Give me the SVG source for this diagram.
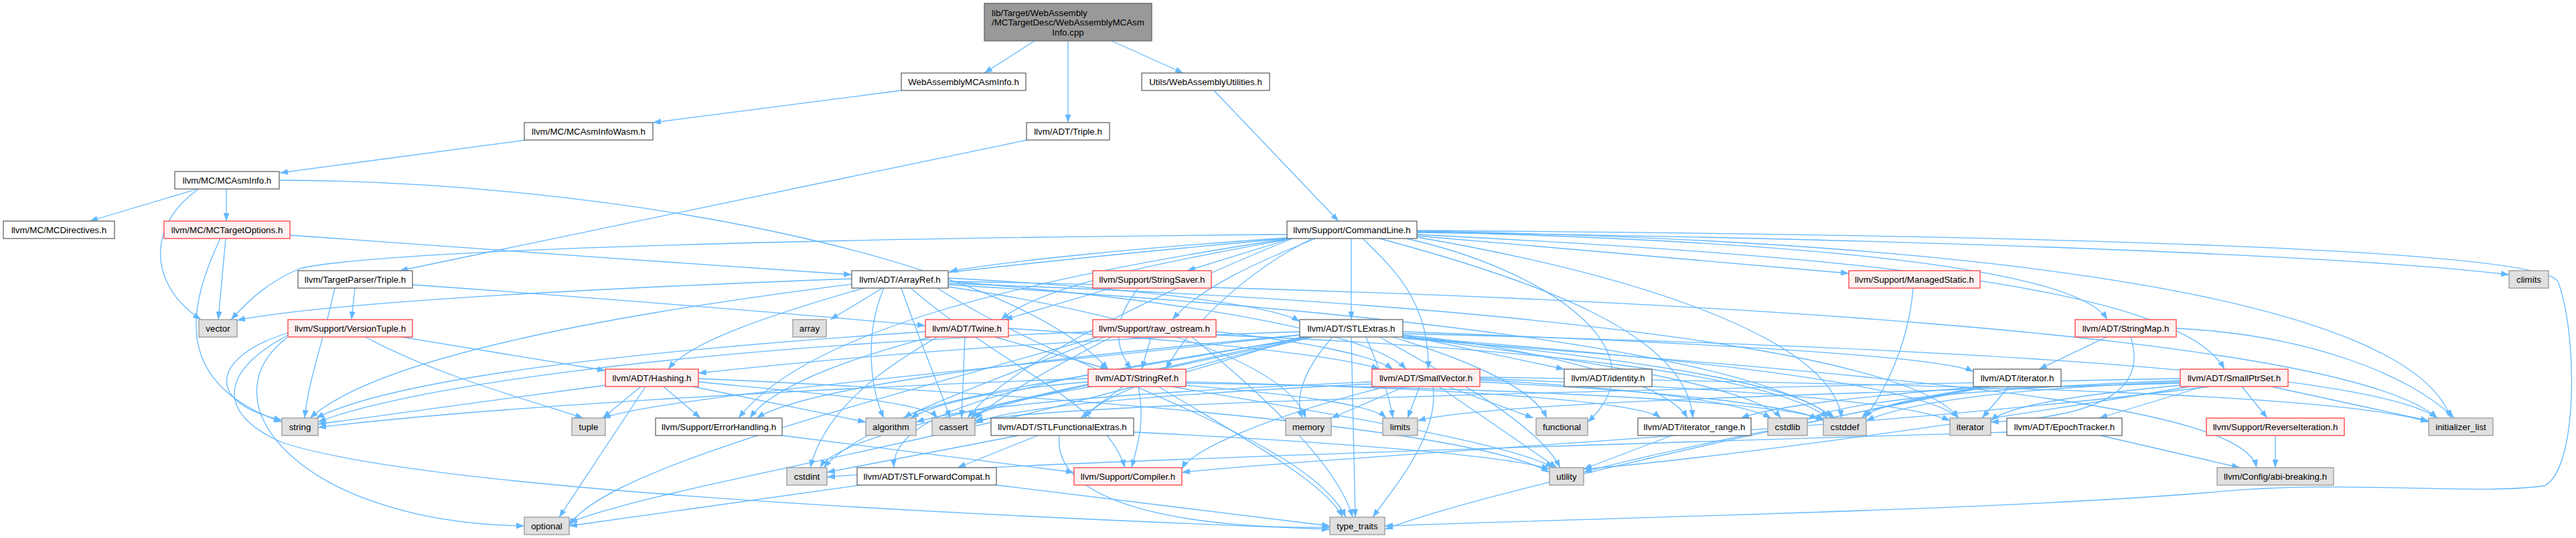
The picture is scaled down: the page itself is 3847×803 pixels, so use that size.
<svg xmlns="http://www.w3.org/2000/svg" width="3847" height="803" viewBox="0 0 3847 803">
<style>
.w{fill:#ffffff;stroke:#666666;stroke-width:1.3}
.r{fill:#fff0f0;stroke:#ff4040;stroke-width:1.3}
.g{fill:#e0e0e0;stroke:#999999;stroke-width:1.3}
.rt{fill:#999999;stroke:#666666;stroke-width:1.3}
text{font-family:'Liberation Sans',Arial,sans-serif;font-size:13.33px;fill:#000;text-anchor:middle}
.e path{fill:none;stroke:#63b8ff;stroke-width:1.3;marker-end:url(#a)}
</style>
<defs>
<marker id="a" viewBox="0 0 12 9" refX="12" refY="4.5" markerWidth="12" markerHeight="9" markerUnits="userSpaceOnUse" orient="auto">
<path d="M0,0 L12,4.5 L0,9 z" fill="#63b8ff"/>
</marker>
</defs>
<rect width="3847" height="803" fill="#ffffff"/>
<g class="e" id="edges">
<path d="M1545,61 L1470,109"/>
<path d="M1595,61 L1595,183"/>
<path d="M1660,61 L1767,109"/>
<path d="M1346,135 L975,183"/>
<path d="M1534,209 L597,404"/>
<path d="M1813,135 L1999,330"/>
<path d="M785,209 L418,258"/>
<path d="M295,282 L134,330"/>
<path d="M338,282 L338,330"/>
<path d="M297,282 C225,330 215,420 300,477"/>
<path d="M417,269 C900,270 1500,380 1655,551"/>
<path d="M433,351 C700,370 1000,392 1272,410"/>
<path d="M329,356 C285,450 250,570 421,630"/>
<path d="M337,356 L326,477"/>
<path d="M530,430 L525,477"/>
<path d="M616,425 C900,445 1200,470 1382,486"/>
<path d="M500,430 C480,520 460,570 455,624"/>
<path d="M600,503 L904,553"/>
<path d="M546,503 C650,560 800,600 871,624"/>
<path d="M430,497 C320,530 300,600 421,627"/>
<path d="M430,503 C300,600 450,780 783,785"/>
<path d="M430,500 C320,560 330,620 420,660 C600,720 1200,760 1986,790"/>
<path d="M1922,355 C1700,370 1500,390 1418,405"/>
<path d="M2018,356 L2018,477"/>
<path d="M2035,356 C2080,400 2135,450 2133,551"/>
<path d="M2116,350 C2700,380 3250,420 3322,551"/>
<path d="M2116,346 C2700,360 3100,400 3147,477"/>
<path d="M1960,356 C1870,400 1780,480 1741,551"/>
<path d="M1930,356 C1800,380 1560,420 1495,477"/>
<path d="M2060,356 C2300,420 2520,500 2528,624"/>
<path d="M1925,356 C1500,420 1200,500 1103,624"/>
<path d="M2116,352 L2761,408"/>
<path d="M1922,358 L1773,404"/>
<path d="M1965,356 C1880,390 1790,430 1751,477"/>
<path d="M1930,356 C1700,450 1500,550 1445,624"/>
<path d="M2116,347 C2800,355 3500,380 3747,410"/>
<path d="M2116,354 C2500,420 2740,520 2750,624"/>
<path d="M2100,356 C2300,400 2490,520 2371,630"/>
<path d="M2116,345 C3000,360 3600,450 3660,624"/>
<path d="M1922,356 C1200,420 600,500 463,624"/>
<path d="M2116,344 C3000,350 3790,370 3820,420 C3850,500 3850,700 3800,725 C3700,740 3500,715 3300,735 C3000,760 2500,770 2068,785"/>
<path d="M1922,350 C1300,355 600,370 450,400 C400,420 370,450 345,477"/>
<path d="M1290,430 C1150,470 1030,510 998,551"/>
<path d="M1416,420 C1800,450 2050,500 2100,551"/>
<path d="M1416,415 C1700,430 1900,455 1941,480"/>
<path d="M1360,430 C1500,550 1650,600 1680,698"/>
<path d="M1320,430 C1290,500 1300,580 1320,624"/>
<path d="M1318,430 L1240,477"/>
<path d="M1346,430 C1370,500 1400,570 1419,624"/>
<path d="M1416,425 C2000,460 2600,520 2740,624"/>
<path d="M1416,420 C2500,440 3500,500 3640,624"/>
<path d="M1416,423 C2200,450 2850,520 2925,624"/>
<path d="M1416,428 C1700,470 1920,540 1950,624"/>
<path d="M1400,430 C1600,560 1950,650 2010,772"/>
<path d="M1272,416 C900,430 500,450 354,478"/>
<path d="M1700,430 C1660,480 1665,520 1690,551"/>
<path d="M1660,430 L1500,477"/>
<path d="M2857,430 C2850,520 2810,590 2785,624"/>
<path d="M1506,490 C1800,510 2000,530 2060,551"/>
<path d="M1486,503 L1655,551"/>
<path d="M1390,503 C1250,540 1150,580 1120,624"/>
<path d="M1441,503 L1436,624"/>
<path d="M1400,503 C1300,560 1230,620 1210,698"/>
<path d="M1382,495 C1000,520 600,560 472,624"/>
<path d="M1816,495 C1950,510 2050,530 2080,551"/>
<path d="M1719,503 L1705,551"/>
<path d="M1660,503 C1550,560 1480,600 1456,626"/>
<path d="M1816,500 C2300,520 2650,560 2730,624"/>
<path d="M1650,503 C1450,580 1280,640 1230,698"/>
<path d="M1640,503 C1300,600 900,700 850,785"/>
<path d="M1632,495 C1000,520 600,580 475,630"/>
<path d="M1780,503 C1900,600 2000,700 2020,772"/>
<path d="M1941,495 C1500,510 1200,540 1043,557"/>
<path d="M1960,503 C1600,560 1330,600 1335,698"/>
<path d="M1960,503 C1800,540 1650,580 1620,624"/>
<path d="M2095,500 L2336,551"/>
<path d="M2095,495 C2500,510 2900,530 2947,555"/>
<path d="M2095,500 C2300,520 2490,570 2520,624"/>
<path d="M2095,505 C2800,560 3350,600 3370,698"/>
<path d="M1941,500 C1500,540 1200,580 1130,624"/>
<path d="M1950,503 C1700,550 1400,590 1350,624"/>
<path d="M1960,503 C1700,560 1480,600 1450,624"/>
<path d="M2095,503 C2500,540 2700,580 2735,624"/>
<path d="M1950,503 C1500,600 1250,650 1225,698"/>
<path d="M2095,503 C2400,540 2620,580 2660,624"/>
<path d="M2080,503 C2200,540 2290,580 2310,624"/>
<path d="M2095,498 C3000,520 3550,560 3640,624"/>
<path d="M2095,503 C2600,540 2880,580 2925,624"/>
<path d="M2040,503 C2060,550 2075,590 2080,624"/>
<path d="M1990,503 C1940,560 1935,600 1945,624"/>
<path d="M1941,503 C1500,650 1000,720 850,780"/>
<path d="M1941,500 C1500,550 1000,590 900,624"/>
<path d="M2018,503 L2024,772"/>
<path d="M2060,503 C2200,580 2300,640 2330,698"/>
<path d="M3146,503 L3045,551"/>
<path d="M3250,490 C3450,500 3600,560 3665,624"/>
<path d="M3182,503 C3200,560 3180,620 2973,630"/>
<path d="M991,577 L1046,624"/>
<path d="M1035,577 L1293,630"/>
<path d="M1043,570 C1250,590 1380,600 1400,624"/>
<path d="M904,575 L475,633"/>
<path d="M957,577 L900,624"/>
<path d="M964,577 L835,772"/>
<path d="M1043,565 C1600,590 2200,640 2314,705"/>
<path d="M1677,577 L1614,624"/>
<path d="M1771,570 C2200,580 2450,600 2480,624"/>
<path d="M1700,577 C1710,630 1700,660 1690,698"/>
<path d="M1625,570 C1500,580 1400,600 1360,624"/>
<path d="M1630,577 C1530,595 1470,605 1450,624"/>
<path d="M1771,572 C2300,580 2650,600 2725,626"/>
<path d="M1771,575 C1950,590 2050,605 2070,624"/>
<path d="M1625,565 C1200,580 700,610 475,638"/>
<path d="M1730,577 C1850,650 1980,720 2005,772"/>
<path d="M1750,577 C2000,620 2250,660 2320,698"/>
<path d="M2070,577 C1900,620 1780,670 1765,700"/>
<path d="M2049,570 C1700,585 1450,605 1368,630"/>
<path d="M2049,573 C1700,590 1500,610 1456,632"/>
<path d="M2210,570 C2500,585 2680,605 2723,628"/>
<path d="M2210,567 C2450,580 2600,600 2645,624"/>
<path d="M2162,577 L2290,624"/>
<path d="M2210,563 C3000,575 3500,590 3627,630"/>
<path d="M2210,565 C2600,580 2850,600 2912,628"/>
<path d="M2120,577 L2102,624"/>
<path d="M2098,577 L1988,624"/>
<path d="M2140,577 C2150,650 2080,730 2050,772"/>
<path d="M2149,577 L2325,698"/>
<path d="M2960,577 C2800,590 2650,605 2600,624"/>
<path d="M2970,577 C2880,590 2800,605 2780,624"/>
<path d="M3000,577 L2960,624"/>
<path d="M2960,577 C2600,650 2200,740 2068,790"/>
<path d="M2970,577 C2700,630 2450,680 2365,705"/>
<path d="M3290,577 L3135,624"/>
<path d="M3348,577 L3386,624"/>
<path d="M3392,577 L3627,628"/>
<path d="M3300,577 C2800,640 2000,680 1765,705"/>
<path d="M3256,565 C2500,580 1600,600 1456,628"/>
<path d="M3256,570 C3000,580 2850,600 2787,628"/>
<path d="M3256,568 C2950,580 2750,600 2699,626"/>
<path d="M3256,575 C3100,590 3000,605 2973,628"/>
<path d="M3256,572 C2600,590 2200,605 2117,628"/>
<path d="M3270,577 C2900,640 2500,690 2365,700"/>
<path d="M1168,650 L1604,705"/>
<path d="M1550,650 L1430,698"/>
<path d="M1521,650 L1235,705"/>
<path d="M1582,650 C1570,760 1800,790 1986,787"/>
<path d="M1693,645 C2000,660 2250,680 2314,700"/>
<path d="M2497,650 L2365,700"/>
<path d="M3137,650 L3345,698"/>
<path d="M2997,645 C2500,660 1500,690 1235,712"/>
<path d="M3398,650 L3398,698"/>
<path d="M1285,724 L850,785"/>
<path d="M1488,724 L1986,785"/>
</g>
<g id="root"><rect class="rt" x="1470" y="5" width="250" height="56"/><text x="1481" y="23.5" style="text-anchor:start">lib/Target/WebAssembly</text><text x="1481" y="38" style="text-anchor:start">/MCTargetDesc/WebAssemblyMCAsm</text><text x="1595" y="52.5">Info.cpp</text></g>
<g id="n_wamcasminfo"><rect class="w" x="1346" y="109" width="186" height="26"/><text x="1439" y="126.5">WebAssemblyMCAsmInfo.h</text></g>
<g id="n_utils"><rect class="w" x="1705" y="109" width="191" height="26"/><text x="1800.5" y="126.5">Utils/WebAssemblyUtilities.h</text></g>
<g id="n_mcasminfowasm"><rect class="w" x="783" y="183" width="192" height="26"/><text x="879" y="200.5">llvm/MC/MCAsmInfoWasm.h</text></g>
<g id="n_adttriple"><rect class="w" x="1533" y="183" width="124" height="26"/><text x="1595" y="200.5">llvm/ADT/Triple.h</text></g>
<g id="n_mcasminfo"><rect class="w" x="261" y="256" width="156" height="26"/><text x="339" y="273.5">llvm/MC/MCAsmInfo.h</text></g>
<g id="n_mcdirectives"><rect class="w" x="5" y="330" width="166" height="26"/><text x="88" y="347.5">llvm/MC/MCDirectives.h</text></g>
<g id="n_mctargetoptions"><rect class="r" x="245" y="330" width="188" height="26"/><text x="339" y="347.5">llvm/MC/MCTargetOptions.h</text></g>
<g id="n_commandline"><rect class="w" x="1922" y="330" width="194" height="26"/><text x="2019" y="347.5">llvm/Support/CommandLine.h</text></g>
<g id="n_tptriple"><rect class="w" x="445" y="404" width="171" height="26"/><text x="530.5" y="421.5">llvm/TargetParser/Triple.h</text></g>
<g id="n_arrayref"><rect class="w" x="1272" y="404" width="144" height="26"/><text x="1344" y="421.5">llvm/ADT/ArrayRef.h</text></g>
<g id="n_stringsaver"><rect class="r" x="1632" y="404" width="177" height="26"/><text x="1720.5" y="421.5">llvm/Support/StringSaver.h</text></g>
<g id="n_managedstatic"><rect class="r" x="2761" y="404" width="196" height="26"/><text x="2859" y="421.5">llvm/Support/ManagedStatic.h</text></g>
<g id="n_climits"><rect class="g" x="3747" y="404" width="59" height="26"/><text x="3776.5" y="421.5">climits</text></g>
<g id="n_vector"><rect class="g" x="297" y="477" width="57" height="26"/><text x="325.5" y="494.5">vector</text></g>
<g id="n_versiontuple"><rect class="r" x="430" y="477" width="186" height="26"/><text x="523" y="494.5">llvm/Support/VersionTuple.h</text></g>
<g id="n_array"><rect class="g" x="1184" y="477" width="50" height="26"/><text x="1209" y="494.5">array</text></g>
<g id="n_twine"><rect class="r" x="1382" y="477" width="124" height="26"/><text x="1444" y="494.5">llvm/ADT/Twine.h</text></g>
<g id="n_rawostream"><rect class="r" x="1632" y="477" width="184" height="26"/><text x="1724" y="494.5">llvm/Support/raw_ostream.h</text></g>
<g id="n_stlextras"><rect class="w" x="1941" y="477" width="154" height="26"/><text x="2018" y="494.5">llvm/ADT/STLExtras.h</text></g>
<g id="n_stringmap"><rect class="r" x="3099" y="477" width="151" height="26"/><text x="3174.5" y="494.5">llvm/ADT/StringMap.h</text></g>
<g id="n_hashing"><rect class="r" x="904" y="551" width="139" height="26"/><text x="973.5" y="568.5">llvm/ADT/Hashing.h</text></g>
<g id="n_stringref"><rect class="r" x="1625" y="551" width="146" height="26"/><text x="1698" y="568.5">llvm/ADT/StringRef.h</text></g>
<g id="n_smallvector"><rect class="r" x="2049" y="551" width="161" height="26"/><text x="2129.5" y="568.5">llvm/ADT/SmallVector.h</text></g>
<g id="n_identity"><rect class="w" x="2336" y="551" width="131" height="26"/><text x="2401.5" y="568.5">llvm/ADT/identity.h</text></g>
<g id="n_iteratorh"><rect class="w" x="2947" y="551" width="131" height="26"/><text x="3012.5" y="568.5">llvm/ADT/iterator.h</text></g>
<g id="n_smallptrset"><rect class="r" x="3256" y="551" width="161" height="26"/><text x="3336.5" y="568.5">llvm/ADT/SmallPtrSet.h</text></g>
<g id="n_string"><rect class="g" x="421" y="624" width="54" height="26"/><text x="448" y="641.5">string</text></g>
<g id="n_tuple"><rect class="g" x="854" y="624" width="50" height="26"/><text x="879" y="641.5">tuple</text></g>
<g id="n_errorhandling"><rect class="w" x="979" y="624" width="189" height="26"/><text x="1073.5" y="641.5">llvm/Support/ErrorHandling.h</text></g>
<g id="n_algorithm"><rect class="g" x="1293" y="624" width="75" height="26"/><text x="1330.5" y="641.5">algorithm</text></g>
<g id="n_cassert"><rect class="g" x="1392" y="624" width="64" height="26"/><text x="1424" y="641.5">cassert</text></g>
<g id="n_stlfunctionalextras"><rect class="w" x="1480" y="624" width="213" height="26"/><text x="1586.5" y="641.5">llvm/ADT/STLFunctionalExtras.h</text></g>
<g id="n_memory"><rect class="g" x="1920" y="624" width="68" height="26"/><text x="1954" y="641.5">memory</text></g>
<g id="n_limits"><rect class="g" x="2065" y="624" width="52" height="26"/><text x="2091" y="641.5">limits</text></g>
<g id="n_functional"><rect class="g" x="2294" y="624" width="77" height="26"/><text x="2332.5" y="641.5">functional</text></g>
<g id="n_iteratorrange"><rect class="w" x="2446" y="624" width="169" height="26"/><text x="2530.5" y="641.5">llvm/ADT/iterator_range.h</text></g>
<g id="n_cstdlib"><rect class="g" x="2640" y="624" width="59" height="26"/><text x="2669.5" y="641.5">cstdlib</text></g>
<g id="n_cstddef"><rect class="g" x="2723" y="624" width="64" height="26"/><text x="2755" y="641.5">cstddef</text></g>
<g id="n_iterator"><rect class="g" x="2912" y="624" width="61" height="26"/><text x="2942.5" y="641.5">iterator</text></g>
<g id="n_epochtracker"><rect class="w" x="2997" y="624" width="172" height="26"/><text x="3083" y="641.5">llvm/ADT/EpochTracker.h</text></g>
<g id="n_reverseiteration"><rect class="r" x="3295" y="624" width="206" height="26"/><text x="3398" y="641.5">llvm/Support/ReverseIteration.h</text></g>
<g id="n_initializerlist"><rect class="g" x="3627" y="624" width="96" height="26"/><text x="3675" y="641.5">initializer_list</text></g>
<g id="n_cstdint"><rect class="g" x="1175" y="698" width="60" height="26"/><text x="1205" y="715.5">cstdint</text></g>
<g id="n_stlforwardcompat"><rect class="w" x="1280" y="698" width="208" height="26"/><text x="1384" y="715.5">llvm/ADT/STLForwardCompat.h</text></g>
<g id="n_compiler"><rect class="r" x="1604" y="698" width="161" height="26"/><text x="1684.5" y="715.5">llvm/Support/Compiler.h</text></g>
<g id="n_utility"><rect class="g" x="2314" y="698" width="51" height="26"/><text x="2339.5" y="715.5">utility</text></g>
<g id="n_abibreaking"><rect class="g" x="3311" y="698" width="174" height="26"/><text x="3398" y="715.5">llvm/Config/abi-breaking.h</text></g>
<g id="n_optional"><rect class="g" x="783" y="772" width="67" height="26"/><text x="816.5" y="789.5">optional</text></g>
<g id="n_typetraits"><rect class="g" x="1986" y="772" width="82" height="26"/><text x="2027" y="789.5">type_traits</text></g>
</svg>
